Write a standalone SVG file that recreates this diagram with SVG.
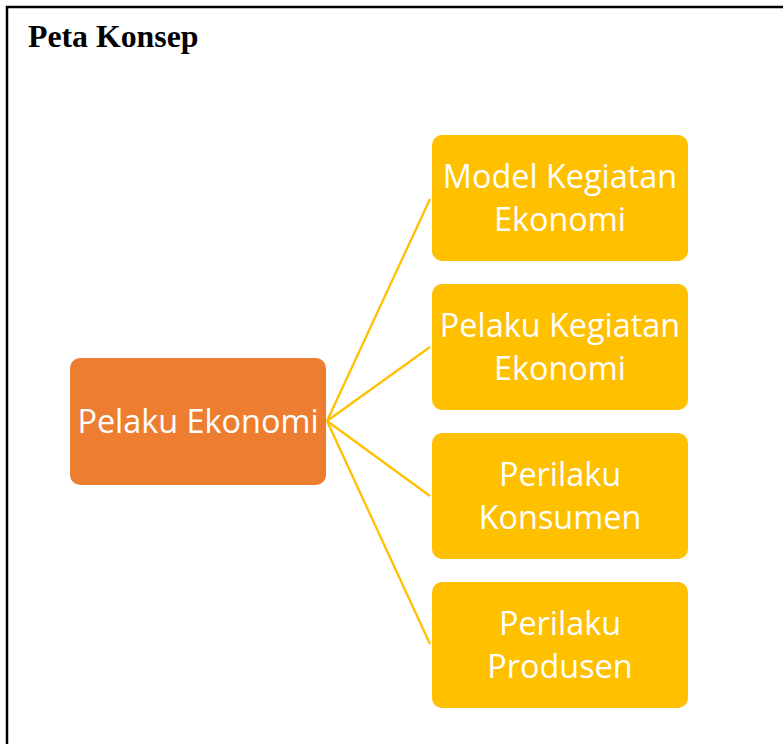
<svg xmlns="http://www.w3.org/2000/svg" width="783" height="744" viewBox="0 0 783 744">
  <style>
    .frame { fill: none; stroke: #000; stroke-width: 2.5; }
    .title { font-family: "Liberation Serif", "Times New Roman", serif; font-weight: bold; font-size: 31.8px; fill: #000; }
    .root { fill: #ED7D31; }
    .leaf { fill: #FFC000; }
    .label { font-family: "Open Sans", "Noto Sans", sans-serif; font-size: 32.4px; fill: #fff; text-anchor: middle; }
    .edge { stroke: #FFC000; stroke-width: 2.3; fill: none; }
  </style>

  <rect x="0" y="0" width="783" height="744" fill="#fff"/>
  <!-- page frame, continuing past the right and bottom edges -->
  <rect class="frame" x="7" y="7" width="820" height="800"/>
  <text class="title" x="28" y="47">Peta Konsep</text>

  <g id="connectors">
    <line class="edge" x1="327" y1="421" x2="430" y2="199"/>
    <line class="edge" x1="327" y1="421" x2="430" y2="347"/>
    <line class="edge" x1="327" y1="421" x2="430" y2="496"/>
    <line class="edge" x1="327" y1="421" x2="430" y2="644"/>
  </g>

  <g id="pelaku-ekonomi">
    <rect class="root" x="70" y="358" width="256" height="127" rx="10"/>
    <text class="label" x="198" y="433">Pelaku Ekonomi</text>
  </g>

  <g id="model-kegiatan-ekonomi">
    <rect class="leaf" x="432" y="135" width="256" height="126" rx="10"/>
    <text class="label" x="560" y="188">Model Kegiatan</text>
    <text class="label" x="560" y="231">Ekonomi</text>
  </g>

  <g id="pelaku-kegiatan-ekonomi">
    <rect class="leaf" x="432" y="284" width="256" height="126" rx="10"/>
    <text class="label" x="560" y="337">Pelaku Kegiatan</text>
    <text class="label" x="560" y="380">Ekonomi</text>
  </g>

  <g id="perilaku-konsumen">
    <rect class="leaf" x="432" y="433" width="256" height="126" rx="10"/>
    <text class="label" x="560" y="486">Perilaku</text>
    <text class="label" x="560" y="529">Konsumen</text>
  </g>

  <g id="perilaku-produsen">
    <rect class="leaf" x="432" y="582" width="256" height="126" rx="10"/>
    <text class="label" x="560" y="635">Perilaku</text>
    <text class="label" x="560" y="678">Produsen</text>
  </g>
</svg>
